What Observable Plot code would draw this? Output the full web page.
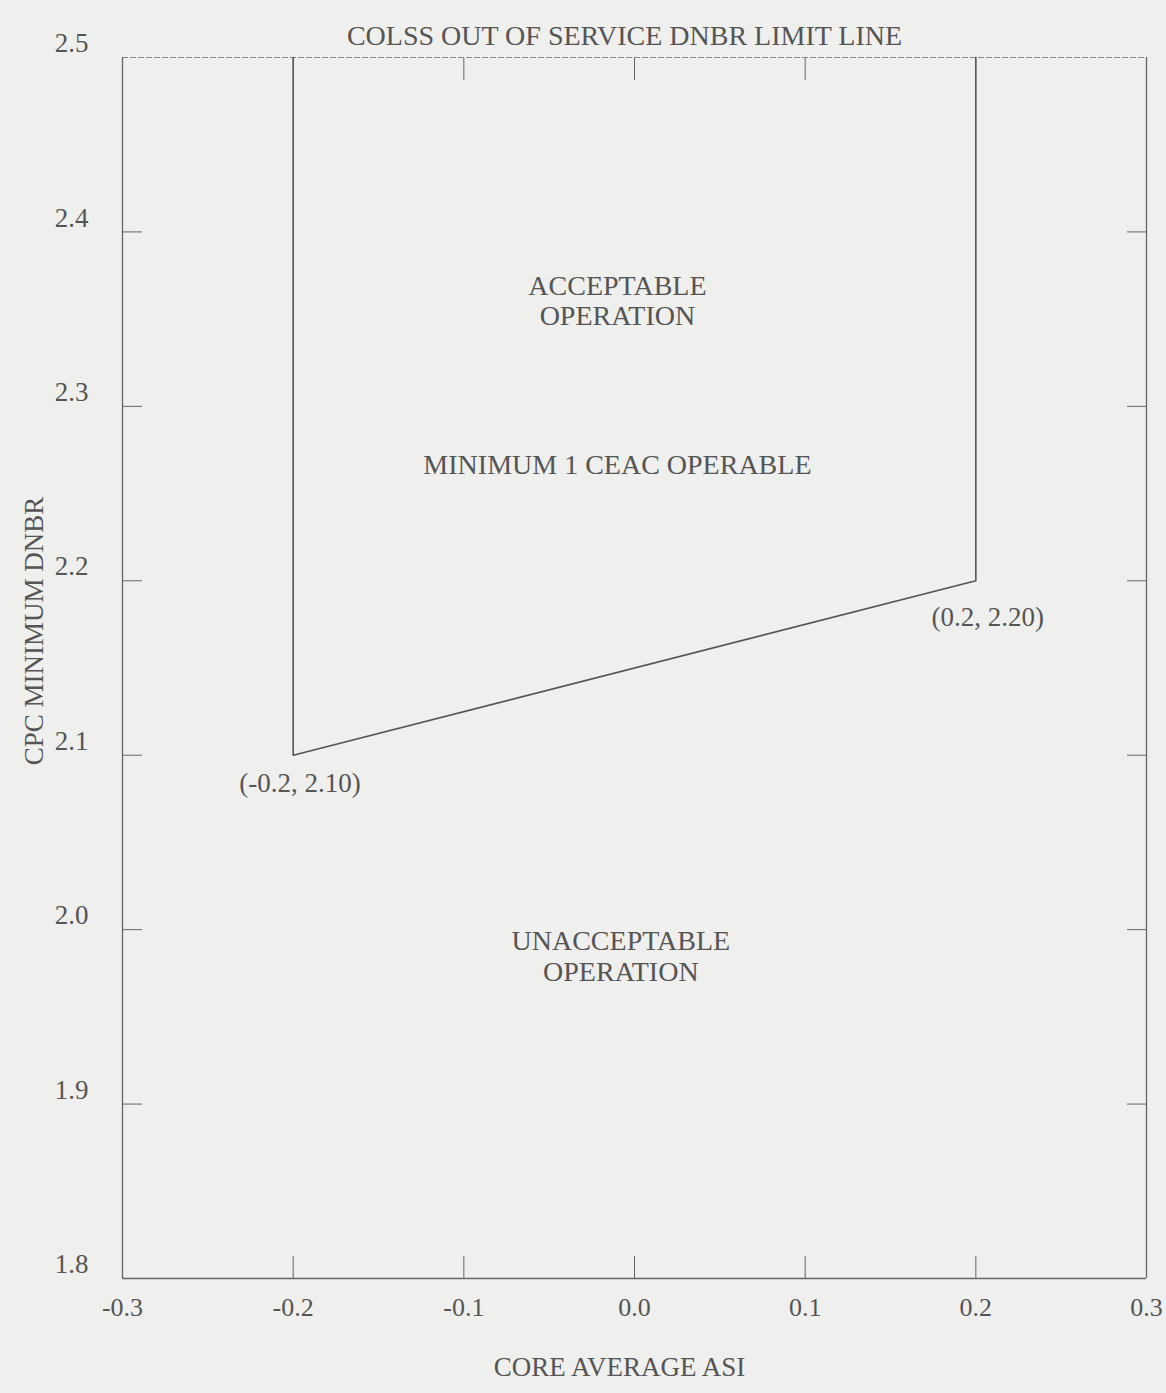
<!DOCTYPE html>
<html>
<head>
<meta charset="utf-8">
<script src="https://cdn.jsdelivr.net/npm/d3@7"></script>
<script src="https://cdn.jsdelivr.net/npm/@observablehq/plot@0.6"></script>
<style>
  html, body { margin: 0; padding: 0; background: #efefed; }
  #chart svg { display: block; background: transparent; }
</style>
</head>
<body>
<div id="chart"></div>
<script>
// ---- data ----
const titleText = "COLSS OUT OF SERVICE DNBR LIMIT LINE";
const xLabel = "CORE AVERAGE ASI";
const yLabel = "CPC MINIMUM DNBR";
const xTicks = [-0.3, -0.2, -0.1, 0.0, 0.1, 0.2, 0.3];
const yTicks = [1.8, 1.9, 2.0, 2.1, 2.2, 2.3, 2.4, 2.5];
const topTicks = [-0.1, 0.0, 0.1];
const sideTicks = [1.9, 2.0, 2.1, 2.2, 2.3, 2.4];
const bottomTicks = [-0.2, -0.1, 0.0, 0.1, 0.2];
const limitAsi = [-0.2, -0.2, 0.2, 0.2];
const limitDnbr = [2.5, 2.10, 2.20, 2.5];
const regionLabels = ["ACCEPTABLE\nOPERATION", "MINIMUM 1 CEAC OPERABLE", "UNACCEPTABLE\nOPERATION"];
const regionX = [-0.01, -0.01, -0.008];
const regionY = [2.361, 2.267, 1.985];
const pointLabels = ["(-0.2, 2.10)", "(0.2, 2.20)"];
const pointLabelX = [-0.196, 0.207];
const pointLabelY = [2.084, 2.179];

// ---- tables ----
const limitLine = limitAsi.map((x, i) => ({x, y: limitDnbr[i]}));
const regions = regionLabels.map((t, i) => ({t, x: regionX[i], y: regionY[i]}));
const points = pointLabels.map((t, i) => ({t, x: pointLabelX[i], y: pointLabelY[i]}));

const ink = "#555";
const font = "'Liberation Serif', 'Times New Roman', serif";
const fmt = d => d.toFixed(1);

const chart = Plot.plot({
  width: 1166,
  height: 1393,
  marginLeft: 122,
  marginRight: 20,
  marginTop: 57,
  marginBottom: 115,
  style: {fontFamily: font, fontSize: "26px", color: ink, background: "transparent"},
  x: {domain: [-0.3, 0.3]},
  y: {domain: [1.8, 2.5]},
  marks: [
    // frame edges
    Plot.ruleY([1.8], {stroke: "#666", strokeWidth: 1.3}),
    Plot.ruleY([2.5], {stroke: "#888", strokeWidth: 1, strokeDasharray: "6,2"}),
    Plot.ruleX([-0.3], {stroke: "#666", strokeWidth: 1.3}),
    Plot.ruleX([0.3], {stroke: "#666", strokeWidth: 1.3}),
    // inward ticks
    Plot.axisY(sideTicks, {anchor: "left", tickSize: -20, text: null, label: null, stroke: "#666"}),
    Plot.axisY(sideTicks, {anchor: "right", tickSize: -20, text: null, label: null, stroke: "#666"}),
    Plot.axisX(topTicks, {anchor: "top", tickSize: -22, text: null, label: null, stroke: "#666"}),
    Plot.axisX(bottomTicks, {anchor: "bottom", tickSize: -22, text: null, label: null, stroke: "#666"}),
    // tick labels
    Plot.axisY(yTicks, {anchor: "left", tickSize: 0, tickPadding: 34, dy: -14, tickFormat: fmt, label: null, fill: ink, fontSize: 27}),
    Plot.axisX(xTicks, {anchor: "bottom", tickSize: 0, tickPadding: 19, tickFormat: fmt, label: null, fill: ink, fontSize: 26}),
    // axis titles
    Plot.text([yLabel], {frameAnchor: "left", textAnchor: "middle", dx: -88, dy: -37, rotate: -90, text: d => d, fill: ink, fontSize: 27}),
    Plot.text([xLabel], {frameAnchor: "bottom", dy: 97, dx: -15, text: d => d, fill: ink, fontSize: 27}),
    Plot.text([titleText], {frameAnchor: "top", dy: -32, dx: -10, text: d => d, fill: ink, fontSize: 28}),
    // limit line
    Plot.line(limitLine, {x: "x", y: "y", stroke: "#555", strokeWidth: 1.6}),
    // region labels
    Plot.text(regions, {x: "x", y: "y", text: "t", fill: ink, fontSize: 28, lineHeight: 1.08}),
    Plot.text(points, {x: "x", y: "y", text: "t", fill: ink, fontSize: 27})
  ]
});
document.getElementById("chart").appendChild(chart);
</script>
</body>
</html>
